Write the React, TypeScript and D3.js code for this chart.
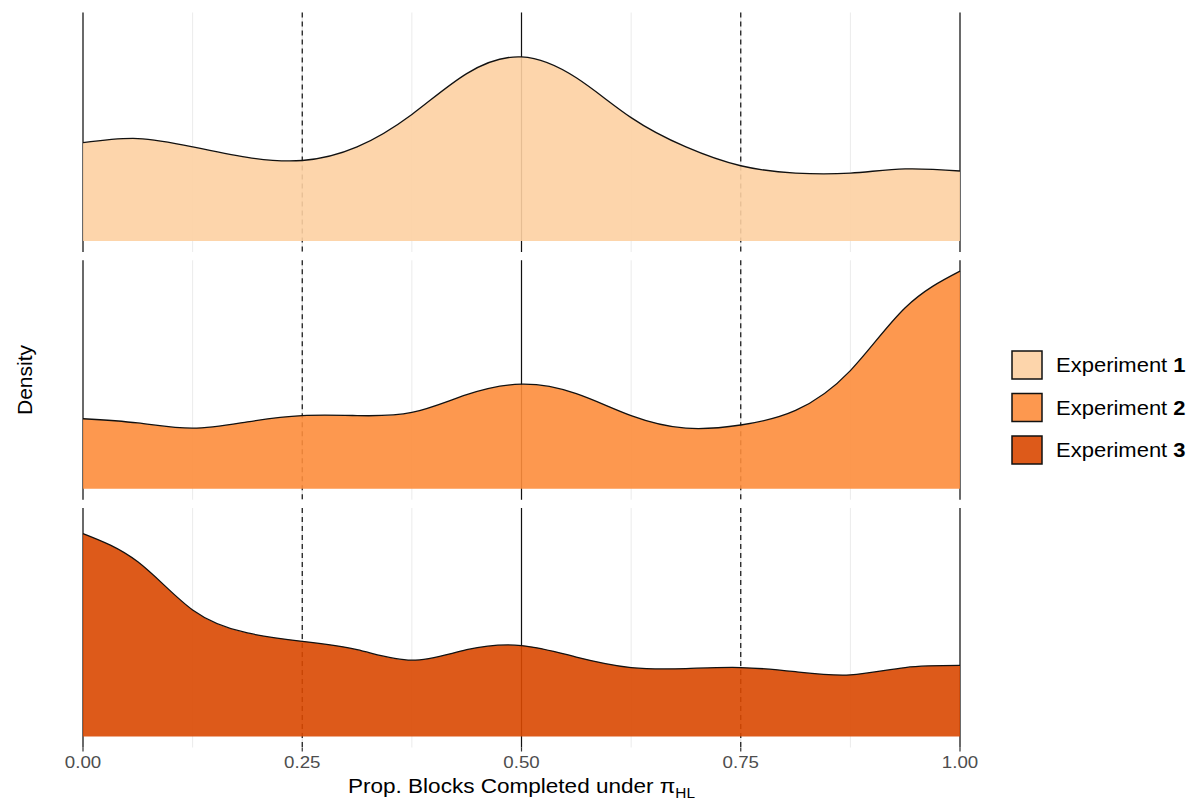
import React from "react";
import * as d3 from "d3";

// density estimates, on a 1/16 grid over [0, 1]
const xGrid = [0, 0.0625, 0.125, 0.1875, 0.25, 0.3125, 0.375, 0.4375, 0.5,
  0.5625, 0.625, 0.6875, 0.75, 0.8125, 0.875, 0.9375, 1];
const exp1 = [0.94, 0.98, 0.9, 0.8, 0.77, 0.9, 1.21, 1.6, 1.76, 1.56, 1.18, 0.9, 0.72, 0.65, 0.65, 0.69, 0.67];
const exp2 = [0.67, 0.63, 0.58, 0.64, 0.7, 0.7, 0.73, 0.9, 1.0, 0.91, 0.7, 0.58, 0.61, 0.75, 1.13, 1.73, 2.08];
const exp3 = [1.94, 1.67, 1.21, 0.99, 0.91, 0.83, 0.73, 0.83, 0.87, 0.76, 0.66, 0.65, 0.66, 0.62, 0.59, 0.66, 0.68];

const experiments = ["1", "2", "3"];
const series = [exp1, exp2, exp3];
const fills = ["#FDD0A2", "#FD8D3C", "#D94801"];

const xTicks = [0, 0.25, 0.5, 0.75, 1];
const minorBreaks = [0.125, 0.375, 0.625, 0.875];
const solidLines = [0, 0.5, 1];
const dashedLines = [0.25, 0.75];

const W = 1203, H = 805;
const left = 83, right = 960;
const panelTop = 12.5, panelH = 239.5, panelGap = 8.25;
const font = "'Liberation Sans', Arial, Helvetica, sans-serif";
const stretch = 1.1;

export default function App() {
  const x = d3.scaleLinear().domain([0, 1]).range([left, right]);
  const maxD = d3.max(series.flat()) as number;
  const curve = d3.curveNatural;

  const panels = series.map((vals, i) => {
    const top = panelTop + i * (panelH + panelGap);
    const bottom = top + panelH;
    const y = d3.scaleLinear().domain([-0.05 * maxD, 1.05 * maxD]).range([bottom, top]);
    const pts = xGrid.map((xv, j) => [xv, vals[j]] as [number, number]);
    const area = d3.area<[number, number]>()
      .x(d => x(d[0])).y0(y(0)).y1(d => y(d[1]))
      .curve(curve);
    const line = d3.line<[number, number]>()
      .x(d => x(d[0])).y(d => y(d[1]))
      .curve(curve);
    return { top, bottom, areaPath: area(pts) as string, linePath: line(pts) as string };
  });

  const axisY = panels[2].bottom;

  return (
    <svg width={W} height={H} style={{ position: "absolute", left: 0, top: 0, background: "#fff" }}
      fontFamily={font}>
      {panels.map((p, i) => (
        <g key={i}>
          {minorBreaks.map(b => (
            <line key={"m" + b} x1={x(b)} x2={x(b)} y1={p.top} y2={p.bottom}
              stroke="#EBEBEB" strokeWidth={1} />
          ))}
          {xTicks.map(b => (
            <line key={"g" + b} x1={x(b)} x2={x(b)} y1={p.top} y2={p.bottom}
              stroke="#E3E3E3" strokeWidth={1.2} />
          ))}
          {solidLines.map(b => (
            <line key={"s" + b} x1={x(b)} x2={x(b)} y1={p.top} y2={p.bottom}
              stroke="#111" strokeWidth={1.2} />
          ))}
          {dashedLines.map(b => (
            <line key={"d" + b} x1={x(b)} x2={x(b)} y1={p.top} y2={p.bottom}
              stroke="#111" strokeWidth={1.2} strokeDasharray="5,4" />
          ))}
          <path d={p.areaPath} fill={fills[i]} fillOpacity={0.9} />
          <path d={p.linePath} fill="none" stroke="#111" strokeWidth={1.3} />
        </g>
      ))}

      {xTicks.map(t => (
        <g key={"t" + t}>
          <line x1={x(t)} x2={x(t)} y1={axisY} y2={axisY + 4} stroke="#333" strokeWidth={1.2} />
          <text transform={`translate(${x(t)},768) scale(${stretch},1)`} textAnchor="middle"
            fontSize={17} fill="#4D4D4D">{t.toFixed(2)}</text>
        </g>
      ))}

      <text transform={`translate(${(left + right) / 2},793) scale(${stretch},1)`} textAnchor="middle"
        fontSize={20.5} fill="#000">
        Prop. Blocks Completed under π<tspan fontSize={14} dy={5}>HL</tspan>
      </text>

      <text transform={`translate(32,380) rotate(-90)`} textAnchor="middle" fontSize={21} fill="#000">
        Density
      </text>

      {experiments.map((e, i) => {
        const ky = 351 + i * 42.5;
        return (
          <g key={"l" + e}>
            <rect x={1012} y={ky} width={30} height={28} fill="#fff" />
            <rect x={1012} y={ky} width={30} height={28} fill={fills[i]} fillOpacity={0.9}
              stroke="#111" strokeWidth={1.5} />
            <text transform={`translate(1056,${ky + 21}) scale(${stretch},1)`} fontSize={20} fill="#000">
              Experiment <tspan fontWeight="bold">{e}</tspan>
            </text>
          </g>
        );
      })}
    </svg>
  );
}
